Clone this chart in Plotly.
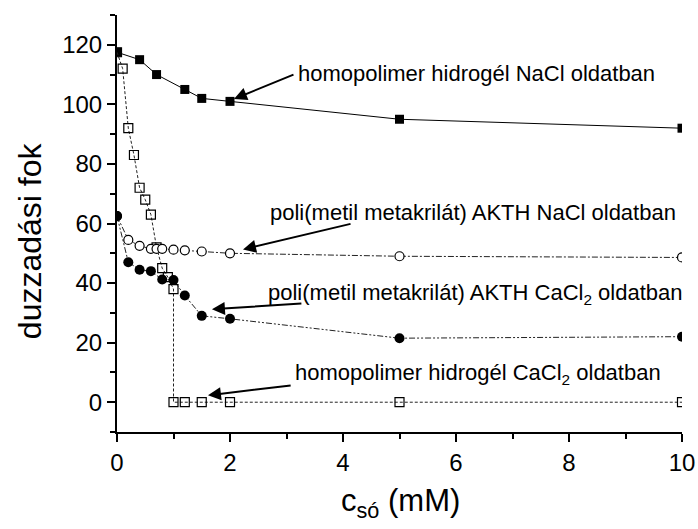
import plotly.graph_objects as go

# homopolimer hidrogél NaCl oldatban (filled squares)
x_homo_nacl = [0, 0.4, 0.7, 1.2, 1.5, 2, 5, 10]
y_homo_nacl = [117.5, 115, 110, 105, 102, 101, 95, 92]

# homopolimer hidrogél CaCl2 oldatban (open squares)
x_homo_cacl2 = [0, 0.1, 0.2, 0.3, 0.4, 0.5, 0.6, 0.7, 0.8, 0.9, 1.0, 1.0, 1.2, 1.5, 2, 5, 10]
y_homo_cacl2 = [117.5, 112, 92, 83, 72, 68, 63, 52, 45, 42, 38, 0, 0, 0, 0, 0, 0]

# poli(metil metakrilát) AKTH NaCl oldatban (open circles)
x_akth_nacl = [0, 0.2, 0.4, 0.6, 0.7, 0.8, 1.0, 1.2, 1.5, 2, 5, 10]
y_akth_nacl = [62.5, 54.5, 52.5, 51.5, 51.5, 51.5, 51.2, 51, 50.6, 50, 49, 48.6]

# poli(metil metakrilát) AKTH CaCl2 oldatban (filled circles)
x_akth_cacl2 = [0, 0.2, 0.4, 0.6, 0.8, 1.0, 1.2, 1.5, 2, 5, 10]
y_akth_cacl2 = [62.5, 47, 44.5, 44, 41.2, 41, 35.8, 29, 28, 21.5, 22]

FONT = "Liberation Sans, Arial, sans-serif"

fig = go.Figure()

fig.add_trace(go.Scatter(
    x=x_homo_nacl, y=y_homo_nacl, mode="lines+markers",
    line=dict(color="black", width=1),
    marker=dict(symbol="square", size=9, color="black"),
))
fig.add_trace(go.Scatter(
    x=x_homo_cacl2, y=y_homo_cacl2, mode="lines+markers",
    line=dict(color="#222", width=1, dash="3px,2px"),
    marker=dict(symbol="square-open", size=9, color="black", line=dict(width=1.2)),
))
fig.add_trace(go.Scatter(
    x=x_akth_nacl, y=y_akth_nacl, mode="lines+markers",
    line=dict(color="#222", width=1, dash="6px,2px,2px,2px"),
    marker=dict(symbol="circle", size=9, color="white", line=dict(color="black", width=1.2)),
))
fig.add_trace(go.Scatter(
    x=x_akth_cacl2, y=y_akth_cacl2, mode="lines+markers",
    line=dict(color="#222", width=1, dash="6px,2px,2px,2px,2px,2px"),
    marker=dict(symbol="circle", size=10, color="black"),
))

# label text, text position, arrow tail, arrow tip (data units)
labels = [
    ("homopolimer hidrogél NaCl oldatban", (3.17, 110.2), (3.15, 110.2), (2.07, 101.8)),
    ("poli(metil metakrilát) AKTH NaCl oldatban", (2.67, 63.6), (4.16, 60.0), (2.23, 51.3)),
    ("poli(metil metakrilát) AKTH CaCl<sub>2</sub> oldatban", (2.64, 36.5), (3.29, 33.2), (1.68, 31.2)),
    ("homopolimer hidrogél CaCl<sub>2</sub> oldatban", (3.12, 9.4), (3.10, 5.7), (1.61, 2.3)),
]

annotations = []
for text, (tx, ty), (ax, ay), (hx, hy) in labels:
    annotations.append(dict(
        x=tx, y=ty, xref="x", yref="y", text=text, showarrow=False,
        xanchor="left", yanchor="middle",
        font=dict(family=FONT, size=22, color="black"),
    ))
    annotations.append(dict(
        x=hx, y=hy, xref="x", yref="y", ax=ax, ay=ay, axref="x", ayref="y",
        text="", showarrow=True, arrowhead=2, arrowsize=1.3, arrowwidth=2,
        arrowcolor="black",
    ))

# axis titles
annotations.append(dict(
    x=-0.154, y=0.46, xref="paper", yref="paper", text="duzzadási fok",
    textangle=-90, showarrow=False, xanchor="center", yanchor="middle",
    font=dict(family=FONT, size=32, color="black"),
))
annotations.append(dict(
    x=0.501, y=-0.17, xref="paper", yref="paper", text="c<sub>só</sub> (mM)",
    showarrow=False, xanchor="center", yanchor="middle",
    font=dict(family=FONT, size=31, color="black"),
))

fig.update_layout(
    width=698, height=529,
    margin=dict(l=117, r=16, t=15, b=97),
    plot_bgcolor="white", paper_bgcolor="white",
    showlegend=False,
    font=dict(family=FONT, color="black"),
    annotations=annotations,
)

fig.update_xaxes(
    range=[0, 10], tickmode="linear", tick0=0, dtick=2, automargin=False,
    showgrid=False, zeroline=False, showline=True, linecolor="black", linewidth=2,
    ticks="outside", ticklen=8, tickwidth=2, tickcolor="black",
    minor=dict(tickmode="linear", tick0=0, dtick=1, ticks="outside", ticklen=5, tickwidth=2, tickcolor="black"),
    tickfont=dict(family=FONT, size=24),
)
fig.update_yaxes(
    range=[-10, 130], tickmode="linear", tick0=0, dtick=20, automargin=False,
    showgrid=False, zeroline=False, showline=True, linecolor="black", linewidth=2,
    ticks="outside", ticklen=8, tickwidth=2, tickcolor="black",
    minor=dict(tickmode="linear", tick0=-10, dtick=10, ticks="outside", ticklen=5, tickwidth=2, tickcolor="black"),
    tickfont=dict(family=FONT, size=24),
)

# drop the default page margin so the figure sits at the window's corner
fig.write_html(
    "out.html",
    config={"displayModeBar": False},
    post_script="document.body.style.margin='0';",
)
